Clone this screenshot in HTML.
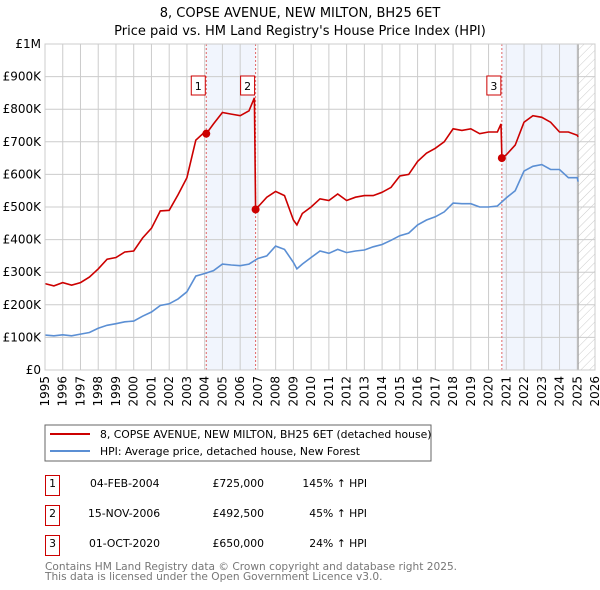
<!DOCTYPE html>
<html><head><meta charset="utf-8"><style>
body{margin:0;background:#fff;}
svg{display:block;font-family:"DejaVu Sans","Liberation Sans",sans-serif;}
</style></head><body>
<svg id="c" width="600" height="590" viewBox="0 0 600 590" xmlns="http://www.w3.org/2000/svg">
<defs><pattern id="hatch" width="6" height="6" patternUnits="userSpaceOnUse" patternTransform="rotate(45)"><line x1="0" y1="0" x2="0" y2="6" stroke="#ccc" stroke-width="1"/></pattern></defs>
<text x="300" y="17" text-anchor="middle" font-size="13">8, COPSE AVENUE, NEW MILTON, BH25 6ET</text>
<text x="300" y="35" text-anchor="middle" font-size="13">Price paid vs. HM Land Registry's House Price Index (HPI)</text>
<g id="plot"></g>
<rect x="45" y="425" width="386" height="36" fill="#fff" stroke="#666"/>
<line x1="50" y1="434" x2="90" y2="434" stroke="#cc0000" stroke-width="2"/>
<text x="100" y="438" font-size="10.8">8, COPSE AVENUE, NEW MILTON, BH25 6ET (detached house)</text>
<line x1="50" y1="451" x2="90" y2="451" stroke="#5b8fd4" stroke-width="2"/>
<text x="100" y="455" font-size="10.8">HPI: Average price, detached house, New Forest</text>
<g font-size="10.8">
<rect x="45.5" y="475.5" width="14" height="20" fill="none" stroke="#cc0000"/><text x="52.5" y="487" text-anchor="middle">1</text>
<text x="90" y="487">04-FEB-2004</text><text x="264" y="487" text-anchor="end">£725,000</text><text x="367" y="487" text-anchor="end">145% ↑ HPI</text>
<rect x="45.5" y="505.5" width="14" height="20" fill="none" stroke="#cc0000"/><text x="52.5" y="517" text-anchor="middle">2</text>
<text x="88" y="517">15-NOV-2006</text><text x="264" y="517" text-anchor="end">£492,500</text><text x="367" y="517" text-anchor="end">45% ↑ HPI</text>
<rect x="45.5" y="535.5" width="14" height="20" fill="none" stroke="#cc0000"/><text x="52.5" y="547" text-anchor="middle">3</text>
<text x="89" y="547">01-OCT-2020</text><text x="264" y="547" text-anchor="end">£650,000</text><text x="367" y="547" text-anchor="end">24% ↑ HPI</text>
</g>
<text x="45" y="570" font-size="10.6" fill="#777">Contains HM Land Registry data © Crown copyright and database right 2025.</text>
<text x="45" y="580" font-size="10.6" fill="#777">This data is licensed under the Open Government Licence v3.0.</text>
</svg>
<script>
const hpiYears=[1995,1995.5,1996,1996.5,1997,1997.5,1998,1998.5,1999,1999.5,2000,2000.5,2001,2001.5,2002,2002.5,2003,2003.5,2004,2004.5,2005,2005.5,2006,2006.5,2007,2007.5,2008,2008.5,2009,2009.2,2009.5,2010,2010.5,2011,2011.5,2012,2012.5,2013,2013.5,2014,2014.5,2015,2015.5,2016,2016.5,2017,2017.5,2018,2018.5,2019,2019.5,2020,2020.5,2021,2021.5,2022,2022.5,2023,2023.5,2024,2024.5,2025,2025.05];
const hpiValues=[107,105,108,105,110,115,128,137,142,148,150,165,178,198,203,218,240,288,296,305,325,322,320,325,342,350,380,370,330,310,325,345,365,358,370,360,365,368,378,385,398,412,420,445,460,470,485,512,510,510,500,500,503,528,550,610,625,630,615,615,590,590,578];
const priceYears=[1995,1995.5,1996,1996.5,1997,1997.5,1998,1998.5,1999,1999.5,2000,2000.5,2001,2001.5,2002,2002.5,2003,2003.5,2004,2004.09,2004.5,2005,2005.5,2006,2006.5,2006.8,2006.87,2007,2007.5,2008,2008.5,2009,2009.2,2009.5,2010,2010.5,2011,2011.5,2012,2012.5,2013,2013.5,2014,2014.5,2015,2015.5,2016,2016.5,2017,2017.5,2018,2018.5,2019,2019.5,2020,2020.5,2020.7,2020.75,2021,2021.5,2022,2022.5,2023,2023.5,2024,2024.5,2025,2025.05];
const priceValues=[265,258,268,260,268,285,310,340,345,362,365,405,435,488,490,538,590,705,730,725,755,790,785,780,795,835,492.5,500,530,548,535,460,445,480,500,525,520,540,520,530,535,535,545,560,595,600,640,665,680,700,740,735,740,725,730,730,755,650,660,690,760,780,775,760,730,730,720,715];
const saleYears=[2004.09,2006.87,2020.75];
const saleValues=[725,492.5,650];
const saleLabels=["1","2","3"];
const yTicks=[0,100,200,300,400,500,600,700,800,900,1000];
const yTickLabels=["£0","£100K","£200K","£300K","£400K","£500K","£600K","£700K","£800K","£900K","£1M"];
const xTicks=[1995,1996,1997,1998,1999,2000,2001,2002,2003,2004,2005,2006,2007,2008,2009,2010,2011,2012,2013,2014,2015,2016,2017,2018,2019,2020,2021,2022,2023,2024,2025,2026];

const L=45,R=595,T=44,B=370,X0=1995,X1=2026,Ymax=1000;
const xs=v=>L+(v-X0)/(X1-X0)*(R-L);
const ys=v=>B-v/Ymax*(B-T);
const NS="http://www.w3.org/2000/svg";
const g=document.getElementById('plot');
function mk(tag,attrs,parent){const e=document.createElementNS(NS,tag);for(const k in attrs)e.setAttribute(k,attrs[k]);(parent||g).appendChild(e);return e;}

const sh1=mk('rect',{x:xs(saleYears[0]),y:T,width:xs(saleYears[1])-xs(saleYears[0]),height:B-T,fill:'#eef3fc',opacity:0.8});


const sh2=mk('rect',{x:xs(saleYears[2]),y:T,width:xs(2025.05)-xs(saleYears[2]),height:B-T,fill:'#eef3fc',opacity:0.8});


const ht=mk('rect',{x:xs(2025.05),y:T,width:R-xs(2025.05),height:B-T,fill:'url(#hatch)'});



yTicks.forEach((v,i)=>{
  const ln=mk('line',{x1:L,x2:R,y1:ys(v),y2:ys(v),stroke:'#ccc','stroke-width':1});
  
  
  const t=mk('text',{x:L-4,y:ys(v)+4,'text-anchor':'end','font-size':12});
  t.textContent=yTickLabels[i];
  
  
});
xTicks.forEach(v=>{
  const ln=mk('line',{x1:xs(v),x2:xs(v),y1:T,y2:B,stroke:'#ccc','stroke-width':1});
  
  
  const t=mk('text',{x:0,y:0,'text-anchor':'end','font-size':12,transform:`translate(${xs(v)+4},${B+6}) rotate(-90)`});
  t.textContent=v;
  
  
});
const vl=mk('line',{x1:xs(2025.05),x2:xs(2025.05),y1:T,y2:B,stroke:'#999','stroke-width':1});



saleYears.forEach(v=>{
  const ln=mk('line',{x1:xs(v),x2:xs(v),y1:T,y2:B,stroke:'#e06666','stroke-width':1,'stroke-dasharray':'2,2'});
  
  
});

function path(xsArr,vals){return xsArr.map((x,i)=>(i?'L':'M')+xs(x).toFixed(1)+','+ys(vals[i]).toFixed(1)).join('');}
const hp=mk('path',{d:path(hpiYears,hpiValues),fill:'none',stroke:'#5b8fd4','stroke-width':1.6});


const pp=mk('path',{d:path(priceYears,priceValues),fill:'none',stroke:'#cc0000','stroke-width':1.6});



saleYears.forEach((v,i)=>{
  const c=mk('circle',{cx:xs(v),cy:ys(saleValues[i]),r:4,fill:'#cc0000'});
  
  
  const r=mk('rect',{x:xs(v)-15,y:76,width:14,height:19,fill:'#fff',stroke:'#cc0000'});
  
  
  const t=mk('text',{x:xs(v)-8,y:90,'text-anchor':'middle','font-size':11});
  t.textContent=saleLabels[i];
  
  
});
const fr=mk('rect',{x:L,y:T,width:R-L,height:B-T,fill:'none',stroke:'#ccc'});


</script>
</body></html>
